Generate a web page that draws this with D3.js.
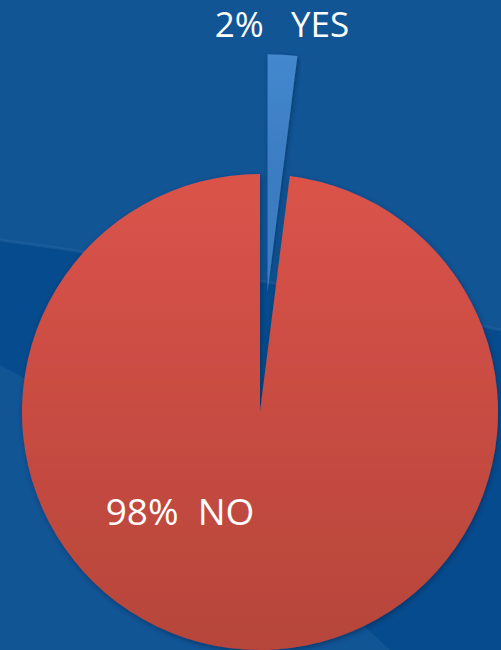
<!DOCTYPE html>
<html>
<head>
<meta charset="utf-8">
<script src="https://cdn.jsdelivr.net/npm/d3@7/dist/d3.min.js"></script>
<style>
  html, body { margin: 0; padding: 0; background: #115595; }
  svg { display: block; }
  text { font-family: "Open Sans", sans-serif; fill: #fff; white-space: pre; }
</style>
</head>
<body>
<script>
let w = 501;
let h = 650;

// chart values
var labels = ["YES", "NO"];
var values = [2, 98];
var labelGaps = ["   ", "  "];
var sliceColors = [["#4d94da", "#3b7cc2"], ["#da534a", "#b6453a"]];

let cx = 260;
let cy = 412;
let radius = 238;
let explode = 120;

let svg = d3.select("body").append("svg").attr("width", w).attr("height", h);
let defs = svg.append("defs");

// background with a darker swoosh
svg.append("rect").attr("width", w).attr("height", h).attr("fill", "#115595");
svg.append("path")
    .attr("d", "M0,240 Q260,275 501,330 L501,650 L390,650 Q200,470 0,365 Z")
    .attr("fill", "#064b8d");
svg.append("path")
    .attr("d", "M0,240 Q260,275 501,330")
    .attr("fill", "none")
    .attr("stroke", "#2a66a3")
    .attr("stroke-width", 3)
    .attr("opacity", 0.45);

// soft shadow around slices
let shadow = defs.append("filter").attr("id", "shadow")
    .attr("x", "-10%").attr("y", "-10%").attr("width", "120%").attr("height", "120%");
shadow.append("feDropShadow")
    .attr("dx", 1).attr("dy", 2).attr("stdDeviation", 2.5)
    .attr("flood-color", "#03284f").attr("flood-opacity", 0.6);

sliceColors.forEach(function(c, i) {
    let g = defs.append("linearGradient").attr("id", "grad" + i)
        .attr("gradientUnits", "userSpaceOnUse")
        .attr("x1", 0).attr("x2", 0)
        .attr("y1", i === 0 ? -radius - explode : -radius)
        .attr("y2", i === 0 ? -explode : radius);
    g.append("stop").attr("offset", "0%").attr("stop-color", c[0]);
    g.append("stop").attr("offset", "100%").attr("stop-color", c[1]);
});

let pie = d3.pie().sort(null).value(function(d) { return d; });
let arc = d3.arc().innerRadius(0).outerRadius(radius);
let arcs = pie(values);

let chart = svg.append("g").attr("transform", "translate(" + cx + "," + cy + ")");

chart.selectAll("path.slice")
    .data(arcs)
    .enter()
    .append("path")
    .attr("class", "slice")
    .attr("d", arc)
    .attr("fill", function(d, i) { return "url(#grad" + i + ")"; })
    .attr("filter", "url(#shadow)")
    .attr("transform", function(d, i) {
        if (i !== 0) return null;
        let mid = (d.startAngle + d.endAngle) / 2;
        return "translate(" + (Math.sin(mid) * explode) + "," + (-Math.cos(mid) * explode) + ")";
    });

// labels
let labelPos = [[22, -375], [-80, 113]];
chart.selectAll("text.label")
    .data(arcs)
    .enter()
    .append("text")
    .attr("class", "label")
    .attr("x", function(d, i) { return labelPos[i][0]; })
    .attr("y", function(d, i) { return labelPos[i][1]; })
    .attr("text-anchor", "middle")
    .style("font-size", function(d, i) { return i === 0 ? "35px" : "37px"; })
    .text(function(d, i) { return values[i] + "%" + labelGaps[i] + labels[i]; });
</script>
</body>
</html>
